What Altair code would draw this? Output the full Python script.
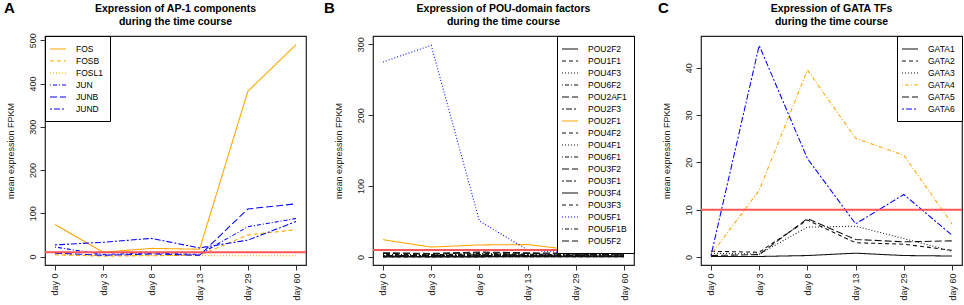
import altair as alt
import pandas as pd

FONT = "Liberation Sans"
days = ["day 0", "day 3", "day 8", "day 13", "day 29", "day 60"]
threshold = 10

# ---- Panel A: AP-1 components ----
ap1_genes = ["FOS", "FOSB", "FOSL1", "JUN", "JUNB", "JUND"]
FOS = [74, 10, 19, 17, 382, 490]
FOSB = [4, 1, 2, 3, 50, 62]
FOSL1 = [6, 2, 3, 2, 2, 2]
JUN = [22, 5, 8, 5, 69, 88]
JUNB = [8, 3, 6, 3, 110, 122]
JUND = [27, 33, 42, 20, 38, 81]
ap1_values = [FOS, FOSB, FOSL1, JUN, JUNB, JUND]
ap1_colors = ["#FFA500", "#FFA500", "#FFA500", "#0000FF", "#0000FF", "#0000FF"]

# ---- Panel B: POU-domain factors ----
pou_genes = ["POU2F2", "POU1F1", "POU4F3", "POU6F2", "POU2AF1", "POU2F3", "POU2F1",
             "POU4F2", "POU4F1", "POU6F1", "POU3F2", "POU3F1", "POU3F4", "POU3F3",
             "POU5F1", "POU5F1B", "POU5F2"]
POU2F2 = [1, 0.5, 0.5, 1, 1, 1.5]
POU1F1 = [0.5, 0.3, 0.3, 0.5, 0.5, 0.5]
POU4F3 = [0.2, 0.2, 0.3, 0.3, 0.3, 0.5]
POU6F2 = [3, 2, 2, 2, 3, 4]
POU2AF1 = [5, 4, 6, 5, 4, 6]
POU2F3 = [2, 1.5, 3, 3, 2, 3]
POU2F1 = [24.4, 14, 17, 17.5, 9.4, 14.5]
POU4F2 = [0.5, 0.5, 0.5, 1, 1, 1]
POU4F1 = [1, 1, 1.5, 2, 2, 3]
POU6F1 = [4, 3, 5, 4, 3, 5]
POU3F2 = [6, 5, 7, 6, 5, 8]
POU3F1 = [2, 2, 3, 2, 3, 4]
POU3F4 = [0.3, 0.3, 0.3, 0.5, 0.5, 0.5]
POU3F3 = [1, 1, 2, 2, 1, 2]
POU5F1 = [275, 298.6, 50.8, 10, 4.7, 11]
POU5F1B = [3, 3, 4, 3, 2, 6]
POU5F2 = [0.5, 0.5, 1, 1, 1, 1]
pou_values = [POU2F2, POU1F1, POU4F3, POU6F2, POU2AF1, POU2F3, POU2F1, POU4F2, POU4F1,
              POU6F1, POU3F2, POU3F1, POU3F4, POU3F3, POU5F1, POU5F1B, POU5F2]
pou_colors = ["#111111"] * 6 + ["#FFA500"] + ["#111111"] * 7 + ["#0000FF"] + ["#111111"] * 2

# ---- Panel C: GATA TFs ----
gata_genes = ["GATA1", "GATA2", "GATA3", "GATA4", "GATA5", "GATA6"]
GATA1 = [0.1, 0.1, 0.3, 0.8, 0.3, 0.2]
GATA2 = [1.2, 1.0, 7.8, 3.0, 2.7, 1.4]
GATA3 = [0.8, 0.6, 6.3, 6.5, 3.9, 1.2]
GATA4 = [0.5, 14.1, 39.5, 25.1, 21.5, 7.0]
GATA5 = [0.3, 0.5, 8.1, 3.7, 3.2, 3.4]
GATA6 = [0.3, 44.7, 20.8, 7.0, 13.2, 4.6]
gata_values = [GATA1, GATA2, GATA3, GATA4, GATA5, GATA6]
gata_colors = ["#111111", "#111111", "#111111", "#FFA500", "#111111", "#0000FF"]

# R line types: solid, dashed, dotted, dotdash, longdash, twodash (cycled)
lty = [[1, 0], [4, 3], [1, 2], [1, 2, 4, 2], [7, 3], [2, 2, 6, 2]]


def long_df(genes, values):
    rows = []
    for g, vals in zip(genes, values):
        for d, v in zip(days, vals):
            rows.append({"gene": g, "day": d, "value": v})
    return pd.DataFrame(rows)


def panel(genes, values, colors, yvals, ydomain, title, letter, letter_x, orient):
    df = long_df(genes, values)
    dashes = [lty[i % 6] for i in range(len(genes))]
    leg = alt.Legend(title=None, orient=orient, offset=0, padding=7,
                     strokeColor="black", fillColor="white", cornerRadius=0,
                     labelFontSize=8.5, labelFont=FONT, labelColor="black",
                     symbolType="M-1.6,0L1.6,0", symbolSize=100, symbolStrokeWidth=1.2,
                     labelOffset=12, rowPadding=1)
    lines = alt.Chart(df).mark_line(strokeWidth=1.05).encode(
        x=alt.X("day:O", sort=days,
                scale=alt.Scale(type="point", padding=0.207),
                axis=alt.Axis(title=None, labelAngle=-90, labelAlign="right",
                              labelBaseline="middle")),
        y=alt.Y("value:Q", scale=alt.Scale(domain=ydomain, nice=False, zero=False),
                axis=alt.Axis(values=yvals, title="mean expression FPKM",
                              labelAngle=-90, titlePadding=13)),
        color=alt.Color("gene:N", sort=genes,
                        scale=alt.Scale(domain=genes, range=colors), legend=leg),
        strokeDash=alt.StrokeDash("gene:N", sort=genes,
                                  scale=alt.Scale(domain=genes, range=dashes), legend=leg),
    )
    rule = alt.Chart(pd.DataFrame({"t": [threshold]})).mark_rule(
        color="#FF5555", strokeWidth=2).encode(y="t:Q")
    lab = alt.Chart(pd.DataFrame({"l": [letter]})).mark_text(
        fontSize=15, fontWeight="bold", font=FONT, align="left", baseline="top"
    ).encode(text="l:N", x=alt.value(letter_x), y=alt.value(-35))
    return alt.layer(lines, rule, lab).properties(
        width=261, height=229,
        title=alt.TitleParams(text=title, fontSize=10.5, fontWeight="bold", font=FONT,
                              anchor="middle", offset=9, dy=35, lineHeight=13,
                              color="black"))


pA = panel(ap1_genes, ap1_values, ap1_colors, [0, 100, 200, 300, 400, 500], [-19.5, 510],
           ["Expression of AP-1 components", "during the time course"], "A", -41, "top-left")
pB = panel(pou_genes, pou_values, pou_colors, [0, 50, 100, 150, 200, 250, 300], [-11.3, 311.7],
           ["Expression of POU-domain factors", "during the time course"], "B", -49, "top-right")
pC = panel(gata_genes, gata_values, gata_colors, [0, 10, 20, 30, 40], [-1.7, 46.7],
           ["Expression of GATA TFs", "during the time course"], "C", -43, "top-right")

chart = alt.hconcat(pA, pB, pC, spacing=67, bounds="flush").resolve_scale(
    color="independent", strokeDash="independent", x="independent", y="independent"
).properties(
    padding={"left": 3, "top": 0, "right": 0, "bottom": 0}
).configure_view(
    stroke="#222222", strokeWidth=1.2
).configure_axis(
    domain=False, grid=False, tickSize=5, tickColor="#333333", tickWidth=1,
    labelFont=FONT, labelFontSize=9, labelColor="#222222", labelPadding=3,
    titleFont=FONT, titleFontSize=9, titleFontWeight="normal", titleColor="#222222"
)

chart.save("out.html", embed_options={"renderer": "svg", "actions": False})
